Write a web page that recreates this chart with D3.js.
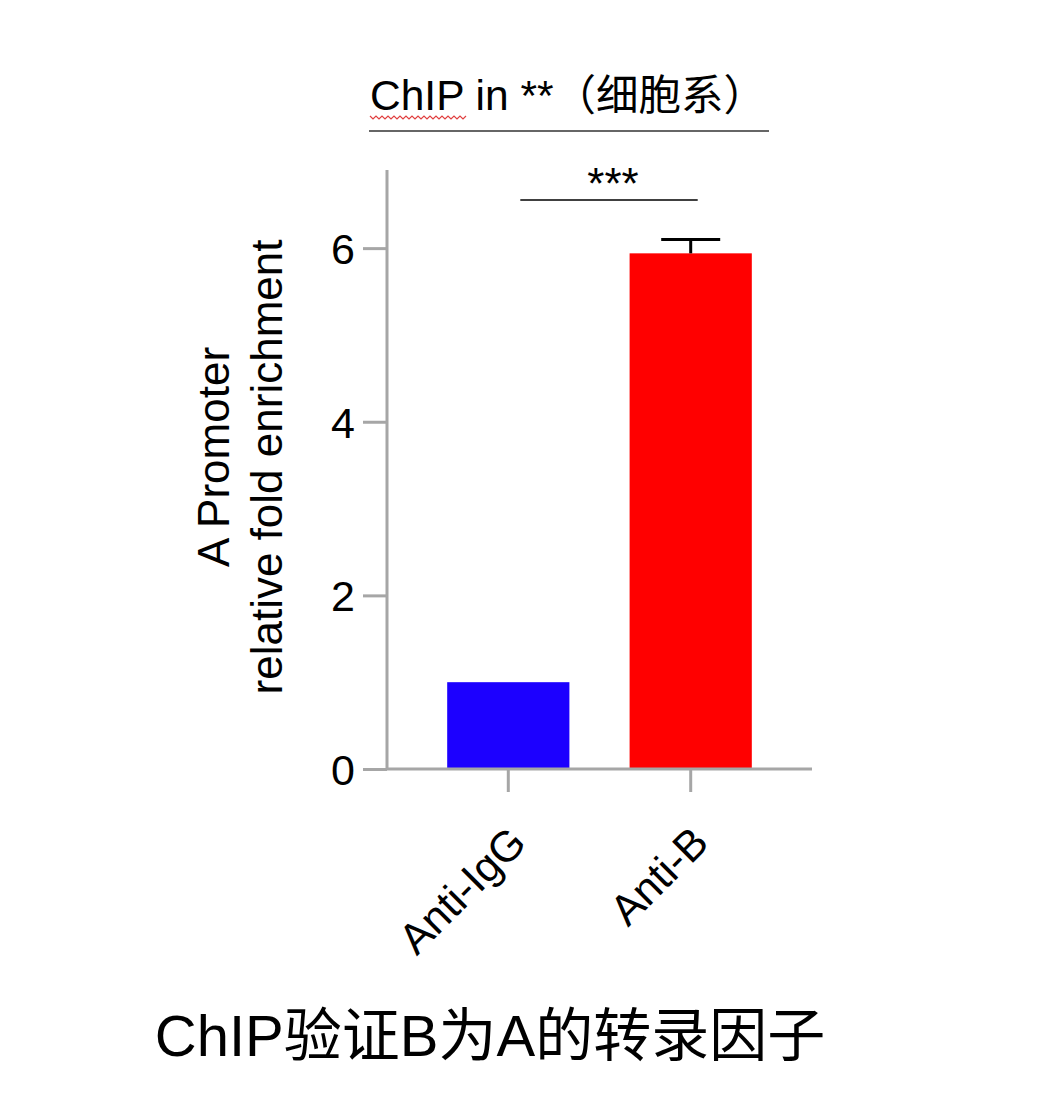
<!DOCTYPE html>
<html>
<head>
<meta charset="utf-8">
<script src="https://cdn.jsdelivr.net/npm/d3@7"></script>
<style>
  body { margin: 0; background: #fff; }
  text { font-family: "Liberation Sans", Arial, "Noto Sans CJK SC", sans-serif; fill: #000; }
</style>
</head>
<body>
<div id="chart"></div>
<script>
// data
const groups = ["Anti-IgG", "Anti-B"];
const means = [1.0, 5.94];
const errors = [0, 0.16];
const barColors = ["#1c00ff", "#ff0000"];
const yTicks = [0, 2, 4, 6];
const yMax = 6.9;
const titleText = "ChIP in **（细胞系）";
const yLabelLines = ["A Promoter", "relative fold enrichment"];
const sigText = "***";
const captionText = "ChIP验证B为A的转录因子";

const W = 1060, H = 1096;
const margin = {top: 170, left: 387, right: 248, bottom: 327};
const width = W - margin.left - margin.right;
const height = H - margin.top - margin.bottom;
const axisColor = "#a6a6a6";

const svg = d3.select("#chart").append("svg")
    .attr("width", W).attr("height", H);

// title + underline
svg.append("text")
    .attr("x", 370).attr("y", 110)
    .style("font-size", "42.5px")
    .text(titleText);

// spell-check squiggle under "ChIP"
let sq = "M370,116";
for (let x = 370, k = 0; x < 465; x += 3, k++) sq += " L" + (x + 3) + "," + (k % 2 ? 116 : 119);
svg.append("path").attr("d", sq).attr("fill", "none")
    .attr("stroke", "#e04040").attr("stroke-width", 1.2);

svg.append("line")
    .attr("x1", 369).attr("x2", 769).attr("y1", 131).attr("y2", 131)
    .attr("stroke", "#333").attr("stroke-width", 1.5);

const g = svg.append("g").attr("transform", "translate(" + [margin.left, margin.top] + ")");

const yScale = d3.scaleLinear().domain([0, yMax]).range([height, 0]);
const xScale = d3.scaleBand().domain(groups).range([0, width])
    .paddingInner(0.33).paddingOuter(0.33);

// bars
g.selectAll(".bar").data(groups).enter()
    .append("rect")
    .attr("class", "bar")
    .attr("x", d => xScale(d))
    .attr("width", xScale.bandwidth())
    .attr("y", (d, i) => yScale(means[i]))
    .attr("height", (d, i) => yScale(0) - yScale(means[i]))
    .attr("fill", (d, i) => barColors[i]);

// error bars (upper only)
const capW = 59;
groups.forEach((d, i) => {
    if (!errors[i]) return;
    const cx = xScale(d) + xScale.bandwidth() / 2;
    g.append("line")
        .attr("x1", cx).attr("x2", cx)
        .attr("y1", yScale(means[i])).attr("y2", yScale(means[i] + errors[i]))
        .attr("stroke", "#000").attr("stroke-width", 3);
    g.append("line")
        .attr("x1", cx - capW / 2).attr("x2", cx + capW / 2)
        .attr("y1", yScale(means[i] + errors[i])).attr("y2", yScale(means[i] + errors[i]))
        .attr("stroke", "#000").attr("stroke-width", 3);
});

// y axis
const yAxis = d3.axisLeft(yScale).tickValues(yTicks).tickSize(24).tickPadding(8)
    .tickFormat(d3.format("d"));
const ya = g.append("g").attr("class", "axis axis-y").call(yAxis);
ya.select(".domain").attr("d", "M0,0V" + height);

// x axis
const xAxis = d3.axisBottom(xScale).tickSize(23).tickFormat("");
const xa = g.append("g").attr("class", "axis axis-x")
    .attr("transform", "translate(0," + height + ")").call(xAxis);
xa.select(".domain").attr("d", "M0,0H" + width);

svg.selectAll(".axis path, .axis line")
    .attr("stroke", axisColor).attr("stroke-width", 3);
ya.selectAll("text").style("font-size", "43px").attr("dy", "0.36em");

// x tick labels rotated
xa.selectAll(".tick").append("text")
    .attr("text-anchor", "end")
    .attr("transform", "translate(20,76) rotate(-45)")
    .style("font-size", "43px")
    .text(d => d);

// y label
yLabelLines.forEach((t, i) => {
    svg.append("text")
        .attr("transform", "translate(" + (229 + i * 53) + "," + (i ? 467 : 457) + ") rotate(-90)")
        .attr("text-anchor", "middle")
        .style("font-size", "44px")
        .text(t);
});

// significance bracket
const c0 = margin.left + xScale(groups[0]) + xScale.bandwidth() / 2;
const c1 = margin.left + xScale(groups[1]) + xScale.bandwidth() / 2;
svg.append("line")
    .attr("x1", c0 + 12).attr("x2", c1 + 7).attr("y1", 200).attr("y2", 200)
    .attr("stroke", "#000").attr("stroke-width", 1.5);
svg.append("text")
    .attr("x", 613).attr("y", 199)
    .attr("text-anchor", "middle")
    .style("font-size", "44px")
    .text(sigText);

// caption
svg.append("text")
    .attr("x", 490).attr("y", 1056)
    .attr("text-anchor", "middle")
    .style("font-size", "58px")
    .text(captionText);
</script>
</body>
</html>
